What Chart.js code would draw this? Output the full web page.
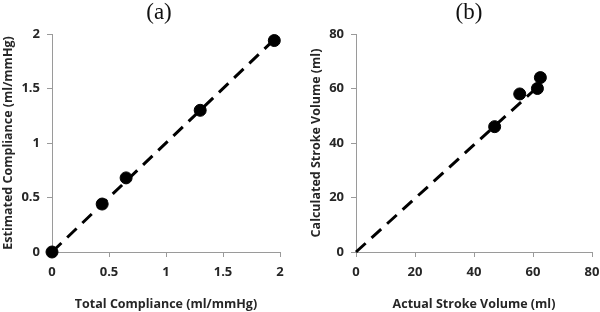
<!DOCTYPE html>
<html><head><meta charset="utf-8">
<script src="https://cdn.jsdelivr.net/npm/chart.js@4/dist/chart.umd.min.js"></script>
<style>
html,body{margin:0;padding:0;background:#fff;}
#wrap{display:flex;width:600px;height:312px;}
.c{position:relative;width:300px;height:312px;}
</style></head><body>
<div id="wrap"><div class="c"><canvas id="ca"></canvas></div><div class="c"><canvas id="cb"></canvas></div></div>
<script>
// Panel (a)
const totalCompliance = [0, 0.44, 0.65, 1.30, 1.95];
const estimatedCompliance = [0, 0.44, 0.68, 1.30, 1.94];
const lineA_x = [0, 1.95];
const lineA_y = [0, 1.95];
const ticksA = [0, 0.5, 1, 1.5, 2];
// Panel (b)
const actualSV = [47, 55.5, 61.5, 62.5];
const calculatedSV = [46, 58, 60, 64];
const lineB_x = [0, 61];
const lineB_y = [0, 60];
const ticksB = [0, 20, 40, 60, 80];

const FONT = "'Open Sans', 'DejaVu Sans', sans-serif";
const TXT = '#262626';
const AX = '#9a9a9a';

const titlePlugin = {
  id: 'panelTitle',
  afterDraw(chart, args, opts) {
    const ctx = chart.ctx, a = chart.chartArea;
    ctx.save();
    ctx.font = "23px 'Liberation Serif', serif";
    ctx.fillStyle = '#111';
    ctx.textAlign = 'center';
    ctx.textBaseline = 'middle';
    ctx.fillText(opts.text, (a.left + a.right) / 2 + opts.dx, 13);
    ctx.restore();
  }
};

function pts(xs, ys) { return xs.map((x, i) => ({x, y: ys[i]})); }

function makeChart(id, cfg) {
  const scaleCommon = (ticksArr, title, isY, fit) => ({
    type: 'linear',
    min: ticksArr[0], max: ticksArr[ticksArr.length - 1],
    afterBuildTicks: s => { s.ticks = ticksArr.map(v => ({value: v})); },
    grid: {drawOnChartArea: false, drawTicks: true, tickLength: 5, color: AX, lineWidth: 1},
    border: {color: AX, width: 1},
    ticks: {color: TXT, font: {family: FONT, size: 13, weight: 'bold'}, padding: isY ? 7 : 7,
      callback: v => String(v)},
    title: {display: true, text: title, color: TXT, font: {family: FONT, size: 12.5, weight: 'bold'},
      padding: isY ? {top: 0, bottom: 1} : {top: 0, bottom: 0}},
    afterFit: s => {
      if (isY) { s.width = fit; s.paddingTop = 0; s.paddingBottom = 0; }
      else { s.height = fit; s.paddingLeft = 0; s.paddingRight = 0; }
    }
  });
  return new Chart(document.getElementById(id), {
    type: 'scatter',
    data: {datasets: [
      {data: cfg.points, backgroundColor: '#000', borderColor: '#000', pointRadius: 6, pointHoverRadius: 6, order: 0, clip: false},
      {type: 'line', data: cfg.line, borderColor: '#000', borderWidth: 3, borderDash: [13, 8],
       pointRadius: 0, fill: false, order: 1, clip: false}
    ]},
    options: {
      responsive: true, maintainAspectRatio: false, animation: false,
      layout: {padding: cfg.pad},
      plugins: {legend: {display: false}, tooltip: {enabled: false}, title: {display: false},
        panelTitle: {text: cfg.title, dx: cfg.dx}},
      scales: {
        x: scaleCommon(cfg.xt, cfg.xtitle, false, 60),
        y: scaleCommon(cfg.yt, cfg.ytitle, true, cfg.yw)
      }
    },
    plugins: [titlePlugin]
  });
}

makeChart('ca', {
  points: pts(totalCompliance, estimatedCompliance),
  line: pts(lineA_x, lineA_y),
  xt: ticksA, yt: ticksA,
  xtitle: 'Total Compliance (ml/mmHg)', ytitle: 'Estimated Compliance (ml/mmHg)',
  title: '(a)', dx: -7,
  pad: {left: 1, right: 20, top: 34, bottom: 0}, yw: 51
});
makeChart('cb', {
  points: pts(actualSV, calculatedSV),
  line: pts(lineB_x, lineB_y),
  xt: ticksB, yt: ticksB,
  xtitle: 'Actual Stroke Volume (ml)', ytitle: 'Calculated Stroke Volume (ml)',
  title: '(b)', dx: -5,
  pad: {left: 9, right: 8, top: 34, bottom: 0}, yw: 47
});
</script>
</body></html>
